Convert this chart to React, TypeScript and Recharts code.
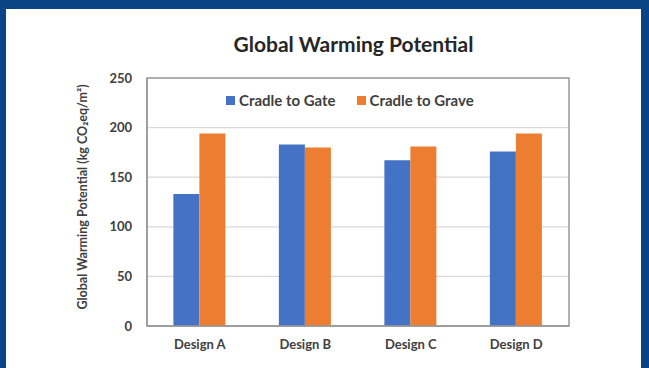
import { BarChart, Bar, XAxis, YAxis, CartesianGrid, Legend, ReferenceArea } from "recharts";

const designs = ["Design A", "Design B", "Design C", "Design D"];
const cradleToGate = [133, 183, 167, 176];
const cradleToGrave = [194, 180, 181, 194];
const yTicks = [0, 50, 100, 150, 200, 250];

const data = designs.map((name, i) => ({
  name,
  gate: cradleToGate[i],
  grave: cradleToGrave[i],
}));

const FONT = "Lato, 'Open Sans', sans-serif";
const TEXT = "#404040";

function LegendBox() {
  const items = [
    { label: "Cradle to Gate", color: "#4472C4" },
    { label: "Cradle to Grave", color: "#ED7D31" },
  ];
  return (
    <div style={{ display: "flex", alignItems: "center", fontFamily: FONT, fontWeight: 700, fontSize: 15, color: TEXT }}>
      {items.map((it, i) => (
        <div key={it.label} style={{ display: "flex", alignItems: "center", marginRight: i === 0 ? 21 : 0 }}>
          <span style={{ width: 9, height: 9, background: it.color, display: "inline-block", marginRight: 4 }} />
          <span>{it.label}</span>
        </div>
      ))}
    </div>
  );
}

export default function App() {
  return (
    <div style={{ position: "absolute", left: 0, top: 0, width: 649, height: 368, background: "#0a4487", overflow: "hidden" }}>
      <div style={{ position: "absolute", left: 6, top: 9, width: 635, height: 359, background: "#ffffff" }} />
      <div
        style={{
          position: "absolute",
          left: 0,
          width: 649,
          top: 31,
          textAlign: "center",
          paddingLeft: 58,
          boxSizing: "border-box",
          fontFamily: FONT,
          fontWeight: 700,
          fontSize: 21,
          color: "#262626",
        }}
      >
        Global Warming Potential
      </div>
      <div
        style={{
          position: "absolute",
          left: 82,
          top: 197,
          transform: "translate(-50%, -50%) rotate(-90deg)",
          whiteSpace: "nowrap",
          fontFamily: FONT,
          fontWeight: 700,
          fontSize: 12.5,
          color: TEXT,
        }}
      >
        Global Warming Potential (kg CO₂eq/m²)
      </div>
      <div style={{ position: "absolute", left: 0, top: 0 }}>
        <BarChart
          width={649}
          height={368}
          data={data}
          margin={{ top: 78, right: 80, left: 87, bottom: 12 }}
          barCategoryGap="25%"
          barGap={0}
        >
          <CartesianGrid vertical={false} stroke="#d9d9d9" strokeWidth={1.2} />
          <ReferenceArea y1={0} y2={250} fill="none" stroke="#999999" strokeWidth={1.5} ifOverflow="visible" />
          <XAxis
            dataKey="name"
            height={30}
            tickLine={false}
            axisLine={{ stroke: "#999999", strokeWidth: 1.5 }}
            tickSize={0}
            tickMargin={14}
            tick={{ fill: TEXT, fontFamily: FONT, fontWeight: 700, fontSize: 13 }}
          />
          <YAxis
            width={60}
            domain={[0, 250]}
            ticks={yTicks}
            tickLine={false}
            axisLine={{ stroke: "#999999", strokeWidth: 1.5 }}
            tickSize={0}
            tickMargin={15}
            tick={{ fill: TEXT, fontFamily: FONT, fontWeight: 700, fontSize: 13 }}
          />
          <Legend
            verticalAlign="middle"
            align="center"
            content={() => <LegendBox />}
            wrapperStyle={{ top: 91, left: 226, width: 290, height: 20 }}
          />
          <Bar dataKey="gate" name="Cradle to Gate" fill="#4472C4" isAnimationActive={false} />
          <Bar dataKey="grave" name="Cradle to Grave" fill="#ED7D31" isAnimationActive={false} />
        </BarChart>
      </div>
    </div>
  );
}
